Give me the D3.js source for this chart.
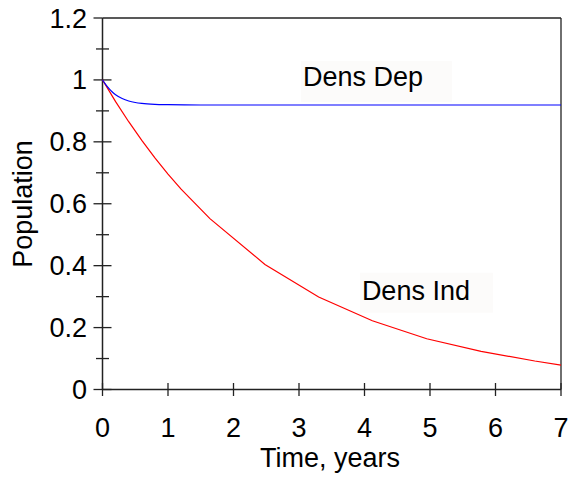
<!DOCTYPE html>
<html><head><meta charset="utf-8">
<script src="https://cdn.jsdelivr.net/npm/d3@7"></script>
<style>body{margin:0;background:#fff}svg{display:block}text{font-family:"Liberation Sans",Arial,sans-serif;fill:#000}</style>
</head><body><svg id="c" width="569" height="477"></svg>
<script>
const xTicks = [0,1,2,3,4,5,6,7];
const yTicks = [0,0.2,0.4,0.6,0.8,1,1.2];
const yTickLabels = ["0","0.2","0.4","0.6","0.8","1","1.2"];
const yMinorTicks = [0.1,0.3,0.5,0.7,0.9,1.1];
const depT = [0,0.05,0.1,0.15,0.2,0.3,0.4,0.5,0.6,0.8,1.0,1.5,2,7];
const depV = [1,0.985,0.972,0.961,0.952,0.94,0.932,0.927,0.924,0.921,0.92,0.919,0.919,0.919];
const indT = [0,0.2,0.4,0.6,0.8,1.0,1.2,1.64,2.48,3.3,4.12,4.95,5.78,6.6,7];
const indV = [1,0.93,0.865,0.805,0.748,0.696,0.647,0.552,0.404,0.299,0.222,0.164,0.123,0.092,0.079];
const labels = [{text:"Dens Dep", t:3.06, v:0.98, w:151, h:41, up:25},{text:"Dens Ind", t:3.96, v:0.29, w:133, h:40, up:27}];

const FS = 27;
const svg = d3.select("#c");
const x = d3.scaleLinear().domain([0,7]).range([102.5,561]);
const y = d3.scaleLinear().domain([0,1.2]).range([389.5,18]);
const axCol = "#222";

labels.forEach(l=>{
  const g = svg.append("g");
  g.append("rect").attr("x",x(l.t)-2).attr("y",y(l.v)-l.up).attr("width",l.w).attr("height",l.h).attr("fill","#fcfbfa");
  g.append("text").attr("x",x(l.t)).attr("y",y(l.v)).attr("font-size",FS).text(l.text);
});

svg.append("line").attr("x1",x(0)).attr("x2",x(7)).attr("y1",y(1.2)).attr("y2",y(1.2)).attr("stroke",axCol).attr("stroke-width",1.3);
svg.append("line").attr("x1",x(7)).attr("x2",x(7)).attr("y1",y(1.2)).attr("y2",y(0)).attr("stroke",axCol).attr("stroke-width",1.3);

const yAx = svg.append("g");
yAx.append("line").attr("x1",x(0)).attr("x2",x(0)).attr("y1",y(1.2)).attr("y2",y(0)).attr("stroke",axCol).attr("stroke-width",1.5);
yAx.selectAll(".mj").data(yTicks).enter().append("line")
  .attr("x1",x(0)-9).attr("x2",d=>d===1.2?x(0):x(0)+9).attr("y1",d=>y(d)).attr("y2",d=>y(d)).attr("stroke",axCol).attr("stroke-width",1.3);
yAx.selectAll(".mn").data(yMinorTicks).enter().append("line")
  .attr("x1",x(0)-6.5).attr("x2",x(0)+6.5).attr("y1",d=>y(d)).attr("y2",d=>y(d)).attr("stroke",axCol).attr("stroke-width",1.3);
yAx.selectAll("text").data(yTicks).enter().append("text")
  .attr("x",87).attr("y",d=>y(d)+9.5).attr("text-anchor","end").attr("font-size",FS)
  .text((d,i)=>yTickLabels[i]);

const xAx = svg.append("g");
xAx.append("line").attr("x1",x(0)).attr("x2",x(7)).attr("y1",y(0)).attr("y2",y(0)).attr("stroke",axCol).attr("stroke-width",1.5);
xAx.selectAll(".t").data(xTicks).enter().append("line")
  .attr("x1",d=>x(d)).attr("x2",d=>x(d)).attr("y1",y(0)-6.5).attr("y2",y(0)+6.5).attr("stroke",axCol).attr("stroke-width",1.3);
xAx.selectAll("text").data(xTicks).enter().append("text")
  .attr("x",d=>x(d)).attr("y",437).attr("text-anchor","middle").attr("font-size",FS).text(d=>d);

svg.append("text").attr("x",330).attr("y",467).attr("text-anchor","middle").attr("font-size",FS).text("Time, years");
svg.append("text").attr("transform","translate(32,204) rotate(-90)").attr("text-anchor","middle").attr("font-size",FS).text("Population");

const line = d3.line().x(d=>x(d[0])).y(d=>y(d[1]));
svg.append("path").datum(indT.map((t,i)=>[t,indV[i]])).attr("d",line).attr("fill","none").attr("stroke","#ff0000").attr("stroke-width",1.2);
svg.append("path").datum(depT.map((t,i)=>[t,depV[i]])).attr("d",d3.line().curve(d3.curveMonotoneX).x(d=>x(d[0])).y(d=>y(d[1]))).attr("fill","none").attr("stroke","#0000ff").attr("stroke-width",1.2);
</script></body></html>
